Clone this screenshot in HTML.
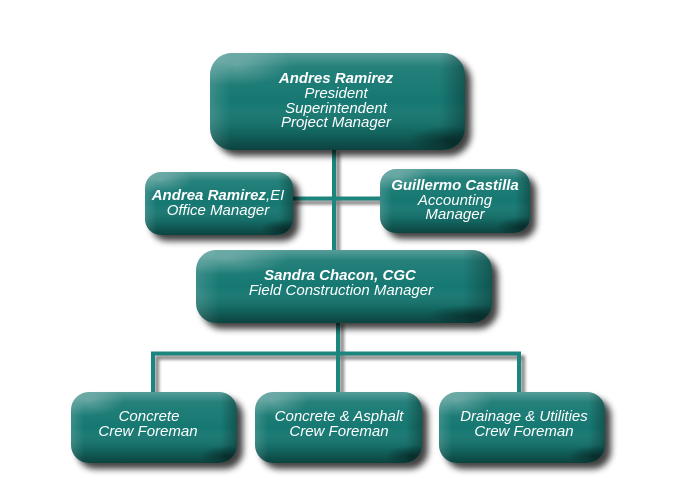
<!DOCTYPE html>
<html><head><meta charset="utf-8">
<style>
html,body{margin:0;padding:0;background:#fff;}
svg{display:block;}
text{font-family:"Liberation Sans",Arial,sans-serif;font-style:italic;fill:#fff;font-size:15px;}
.b{font-weight:bold;}
</style></head>
<body>
<svg width="680" height="500" viewBox="0 0 680 500" xmlns="http://www.w3.org/2000/svg">
<defs>
  <filter id="sh" x="-20%" y="-30%" width="150%" height="170%">
    <feGaussianBlur in="SourceAlpha" stdDeviation="3.5"/>
    <feOffset dx="6" dy="6" result="o"/>
    <feComponentTransfer><feFuncA type="linear" slope="0.75"/></feComponentTransfer>
    <feMerge><feMergeNode/><feMergeNode in="SourceGraphic"/></feMerge>
  </filter>
  <filter id="lsh" x="-50%" y="-50%" width="200%" height="200%">
    <feGaussianBlur in="SourceAlpha" stdDeviation="1.5"/>
    <feOffset dx="4" dy="4" result="o"/>
    <feComponentTransfer><feFuncA type="linear" slope="0.5"/></feComponentTransfer>
    <feMerge><feMergeNode/><feMergeNode in="SourceGraphic"/></feMerge>
  </filter>
  <linearGradient id="gv" x1="0" y1="0" x2="0" y2="1">
    <stop offset="0" stop-color="#fff" stop-opacity="0.28"/>
    <stop offset="0.15" stop-color="#fff" stop-opacity="0.06"/>
    <stop offset="0.5" stop-color="#fff" stop-opacity="0"/>
    <stop offset="0.8" stop-color="#000" stop-opacity="0.14"/>
    <stop offset="1" stop-color="#000" stop-opacity="0.45"/>
  </linearGradient>
  <linearGradient id="gh" x1="0" y1="0" x2="1" y2="0">
    <stop offset="0" stop-color="#fff" stop-opacity="0.15"/>
    <stop offset="0.08" stop-color="#fff" stop-opacity="0"/>
    <stop offset="0.9" stop-color="#000" stop-opacity="0"/>
    <stop offset="1" stop-color="#000" stop-opacity="0.3"/>
  </linearGradient>
  <radialGradient id="gr" cx="0.1" cy="0.12" r="0.22">
    <stop offset="0" stop-color="#fff" stop-opacity="0.28"/>
    <stop offset="1" stop-color="#fff" stop-opacity="0"/>
  </radialGradient>
  <radialGradient id="gd" cx="0.93" cy="0.9" r="0.15">
    <stop offset="0" stop-color="#000" stop-opacity="0.4"/>
    <stop offset="1" stop-color="#000" stop-opacity="0"/>
  </radialGradient>
</defs>

<!-- connectors -->
<g stroke="#1e857d" stroke-width="4" fill="none" filter="url(#lsh)">
  <line x1="334" y1="148" x2="334" y2="252"/>
  <line x1="291" y1="198.5" x2="382" y2="198.5"/>
  <line x1="338" y1="320" x2="338" y2="353.5"/>
  <polyline points="153,394 153,353.5 519,353.5 519,394"/>
  <line x1="338" y1="353.5" x2="338" y2="394"/>
</g>

<!-- boxes -->
<g>
  <g filter="url(#sh)"><rect x="210" y="53" width="255" height="97" rx="22" fill="#197872"/></g>
  <rect x="210" y="53" width="255" height="97" rx="22" fill="url(#gv)"/>
  <rect x="210" y="53" width="255" height="97" rx="22" fill="url(#gh)"/>
  <rect x="210" y="53" width="255" height="97" rx="22" fill="url(#gr)"/>
  <rect x="210" y="53" width="255" height="97" rx="22" fill="url(#gd)"/>

  <g filter="url(#sh)"><rect x="145" y="172" width="148" height="63" rx="16" fill="#197872"/></g>
  <rect x="145" y="172" width="148" height="63" rx="16" fill="url(#gv)"/>
  <rect x="145" y="172" width="148" height="63" rx="16" fill="url(#gh)"/>
  <rect x="145" y="172" width="148" height="63" rx="16" fill="url(#gr)"/>
  <rect x="145" y="172" width="148" height="63" rx="16" fill="url(#gd)"/>

  <g filter="url(#sh)"><rect x="380" y="169" width="150" height="64" rx="16" fill="#197872"/></g>
  <rect x="380" y="169" width="150" height="64" rx="16" fill="url(#gv)"/>
  <rect x="380" y="169" width="150" height="64" rx="16" fill="url(#gh)"/>
  <rect x="380" y="169" width="150" height="64" rx="16" fill="url(#gr)"/>
  <rect x="380" y="169" width="150" height="64" rx="16" fill="url(#gd)"/>

  <g filter="url(#sh)"><rect x="196" y="250" width="296" height="73" rx="20" fill="#197872"/></g>
  <rect x="196" y="250" width="296" height="73" rx="20" fill="url(#gv)"/>
  <rect x="196" y="250" width="296" height="73" rx="20" fill="url(#gh)"/>
  <rect x="196" y="250" width="296" height="73" rx="20" fill="url(#gr)"/>
  <rect x="196" y="250" width="296" height="73" rx="20" fill="url(#gd)"/>

  <g filter="url(#sh)"><rect x="71" y="392" width="166" height="71" rx="18" fill="#197872"/></g>
  <rect x="71" y="392" width="166" height="71" rx="18" fill="url(#gv)"/>
  <rect x="71" y="392" width="166" height="71" rx="18" fill="url(#gh)"/>
  <rect x="71" y="392" width="166" height="71" rx="18" fill="url(#gr)"/>
  <rect x="71" y="392" width="166" height="71" rx="18" fill="url(#gd)"/>

  <g filter="url(#sh)"><rect x="255" y="392" width="167" height="71" rx="18" fill="#197872"/></g>
  <rect x="255" y="392" width="167" height="71" rx="18" fill="url(#gv)"/>
  <rect x="255" y="392" width="167" height="71" rx="18" fill="url(#gh)"/>
  <rect x="255" y="392" width="167" height="71" rx="18" fill="url(#gr)"/>
  <rect x="255" y="392" width="167" height="71" rx="18" fill="url(#gd)"/>

  <g filter="url(#sh)"><rect x="439" y="392" width="166" height="71" rx="18" fill="#197872"/></g>
  <rect x="439" y="392" width="166" height="71" rx="18" fill="url(#gv)"/>
  <rect x="439" y="392" width="166" height="71" rx="18" fill="url(#gh)"/>
  <rect x="439" y="392" width="166" height="71" rx="18" fill="url(#gr)"/>
  <rect x="439" y="392" width="166" height="71" rx="18" fill="url(#gd)"/>
</g>

<!-- text -->
<g text-anchor="middle">
  <text x="336" y="83" class="b">Andres Ramirez</text>
  <text x="336" y="98">President</text>
  <text x="336" y="113">Superintendent</text>
  <text x="336" y="127">Project Manager</text>

  <text x="218" y="200"><tspan class="b">Andrea Ramirez</tspan>,EI</text>
  <text x="218" y="215">Office Manager</text>

  <text x="455" y="190" class="b">Guillermo Castilla</text>
  <text x="455" y="205">Accounting</text>
  <text x="455" y="219">Manager</text>

  <text x="340" y="280" class="b">Sandra Chacon, CGC</text>
  <text x="341" y="295">Field Construction Manager</text>

  <text x="149" y="421">Concrete</text>
  <text x="148" y="436">Crew Foreman</text>

  <text x="339" y="421">Concrete &amp; Asphalt</text>
  <text x="339" y="436">Crew Foreman</text>

  <text x="524" y="421">Drainage &amp; Utilities</text>
  <text x="524" y="436">Crew Foreman</text>
</g>
</svg>
</body></html>
